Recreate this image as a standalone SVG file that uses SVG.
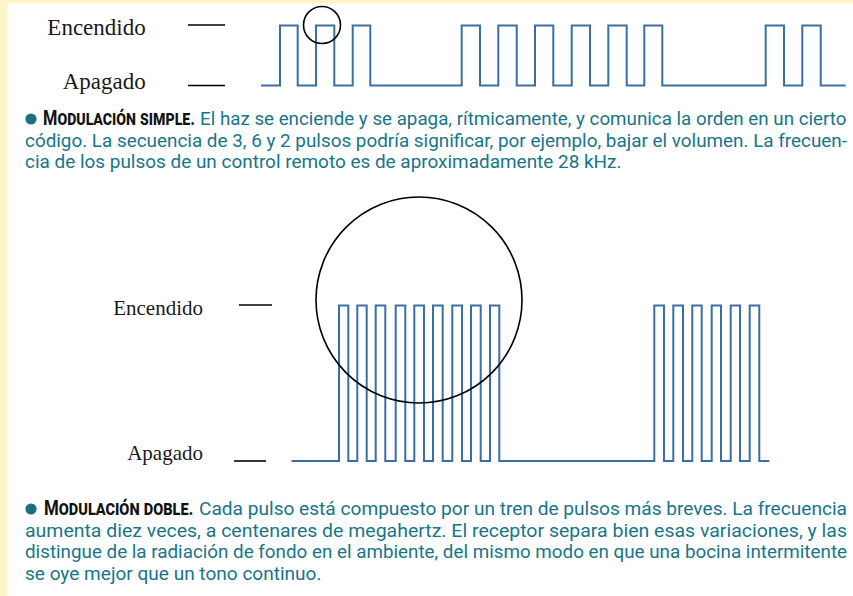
<svg xmlns="http://www.w3.org/2000/svg" width="853" height="596" viewBox="0 0 853 596">
<style>
.lbl{font-family:"Liberation Serif","Times New Roman",serif;fill:#1a1a1a;text-anchor:end}
.dash{stroke:#000;stroke-width:1.6}
.wave{fill:none;stroke:#3c6ea6;stroke-width:2}
.circ{fill:none;stroke:#000;stroke-width:1.6}
.txt{font-family:Roboto,"Liberation Sans",sans-serif;font-size:19px;fill:#177589}
.hd{font-family:Roboto,"Liberation Sans",sans-serif;font-size:21px;font-weight:bold;fill:#111;font-variant:small-caps}
.bul{fill:#1d6f80}
</style>
<rect x="0" y="0" width="853" height="596" fill="#ffffff"/>
<rect x="0" y="0" width="853" height="3.5" fill="#fdf5c8"/>
<rect x="0" y="0" width="7.5" height="596" fill="#fdf5c8"/>

<g id="chart-simple">
  <text class="lbl" x="145.7" y="35" font-size="23">Encendido</text>
  <text class="lbl" x="145.7" y="88.5" font-size="23">Apagado</text>
  <line class="dash" x1="188" y1="25" x2="225" y2="25"/>
  <line class="dash" x1="188" y1="85.5" x2="225" y2="85.5"/>
  <path class="wave" d="M261,85.5 H280 V25.5 H297.7 V85.5 H316 V25.5 H334.3 V85.5 H352.7 V25.5 H370.3 V85.5 H461.7 V25.5 H480 V85.5 H498.3 V25.5 H516.7 V85.5 H535 V25.5 H553.3 V85.5 H571.7 V25.5 H590 V85.5 H608.3 V25.5 H626.7 V85.5 H644.3 V25.5 H662.3 V85.5 H765.7 V25.5 H784 V85.5 H802.3 V25.5 H820.7 V85.5 H845.7"/>
  <circle class="circ" cx="322" cy="25" r="18.5"/>
</g>

<g id="caption-simple">
  <circle class="bul" cx="31" cy="119" r="5.6"/>
  <text class="hd" x="43" y="125" textLength="152" lengthAdjust="spacingAndGlyphs">Modulación simple.</text>
  <text class="txt" x="200" y="125" textLength="646.5" lengthAdjust="spacingAndGlyphs">El haz se enciende y se apaga, rítmicamente, y comunica la orden en un cierto</text>
  <text class="txt" x="25" y="146.7" textLength="822" lengthAdjust="spacingAndGlyphs">código. La secuencia de 3, 6 y 2 pulsos podría significar, por ejemplo, bajar el volumen. La frecuen-</text>
  <text class="txt" x="25" y="168.3" textLength="596.5" lengthAdjust="spacingAndGlyphs">cia de los pulsos de un control remoto es de aproximadamente 28 kHz.</text>
</g>

<g id="chart-double">
  <text class="lbl" x="203" y="315" font-size="21">Encendido</text>
  <text class="lbl" x="203" y="460" font-size="21">Apagado</text>
  <line class="dash" x1="239" y1="305" x2="272" y2="305"/>
  <line class="dash" x1="234" y1="461" x2="266" y2="461"/>
  <path class="wave" d="M291.5,461 H339 V305.5 H348.3 V461 H357.3 V305.5 H366.7 V461 H375.7 V305.5 H385.3 V461 H395.7 V305.5 H405.3 V461 H414.3 V305.5 H424 V461 H433 V305.5 H442.7 V461 H452.3 V305.5 H462 V461 H471 V305.5 H480.7 V461 H490 V305.5 H499.3 V461 H654.3 V305.5 H664 V461 H673.3 V305.5 H683 V461 H692.3 V305.5 H701.7 V461 H711.7 V305.5 H721 V461 H730.7 V305.5 H740 V461 H749.7 V305.5 H759.3 V461 H769.3"/>
  <circle class="circ" cx="419" cy="300" r="103"/>
</g>

<g id="caption-double">
  <circle class="bul" cx="31" cy="509" r="5.6"/>
  <text class="hd" x="44" y="515" textLength="149.5" lengthAdjust="spacingAndGlyphs">Modulación doble.</text>
  <text class="txt" x="199" y="515" textLength="648" lengthAdjust="spacingAndGlyphs">Cada pulso está compuesto por un tren de pulsos más breves. La frecuencia</text>
  <text class="txt" x="25" y="536.7" textLength="822" lengthAdjust="spacingAndGlyphs">aumenta diez veces, a centenares de megahertz. El receptor separa bien esas variaciones, y las</text>
  <text class="txt" x="25" y="558.3" textLength="822" lengthAdjust="spacingAndGlyphs">distingue de la radiación de fondo en el ambiente, del mismo modo en que una bocina intermitente</text>
  <text class="txt" x="25" y="580" textLength="296.5" lengthAdjust="spacingAndGlyphs">se oye mejor que un tono continuo.</text>
</g>
</svg>
